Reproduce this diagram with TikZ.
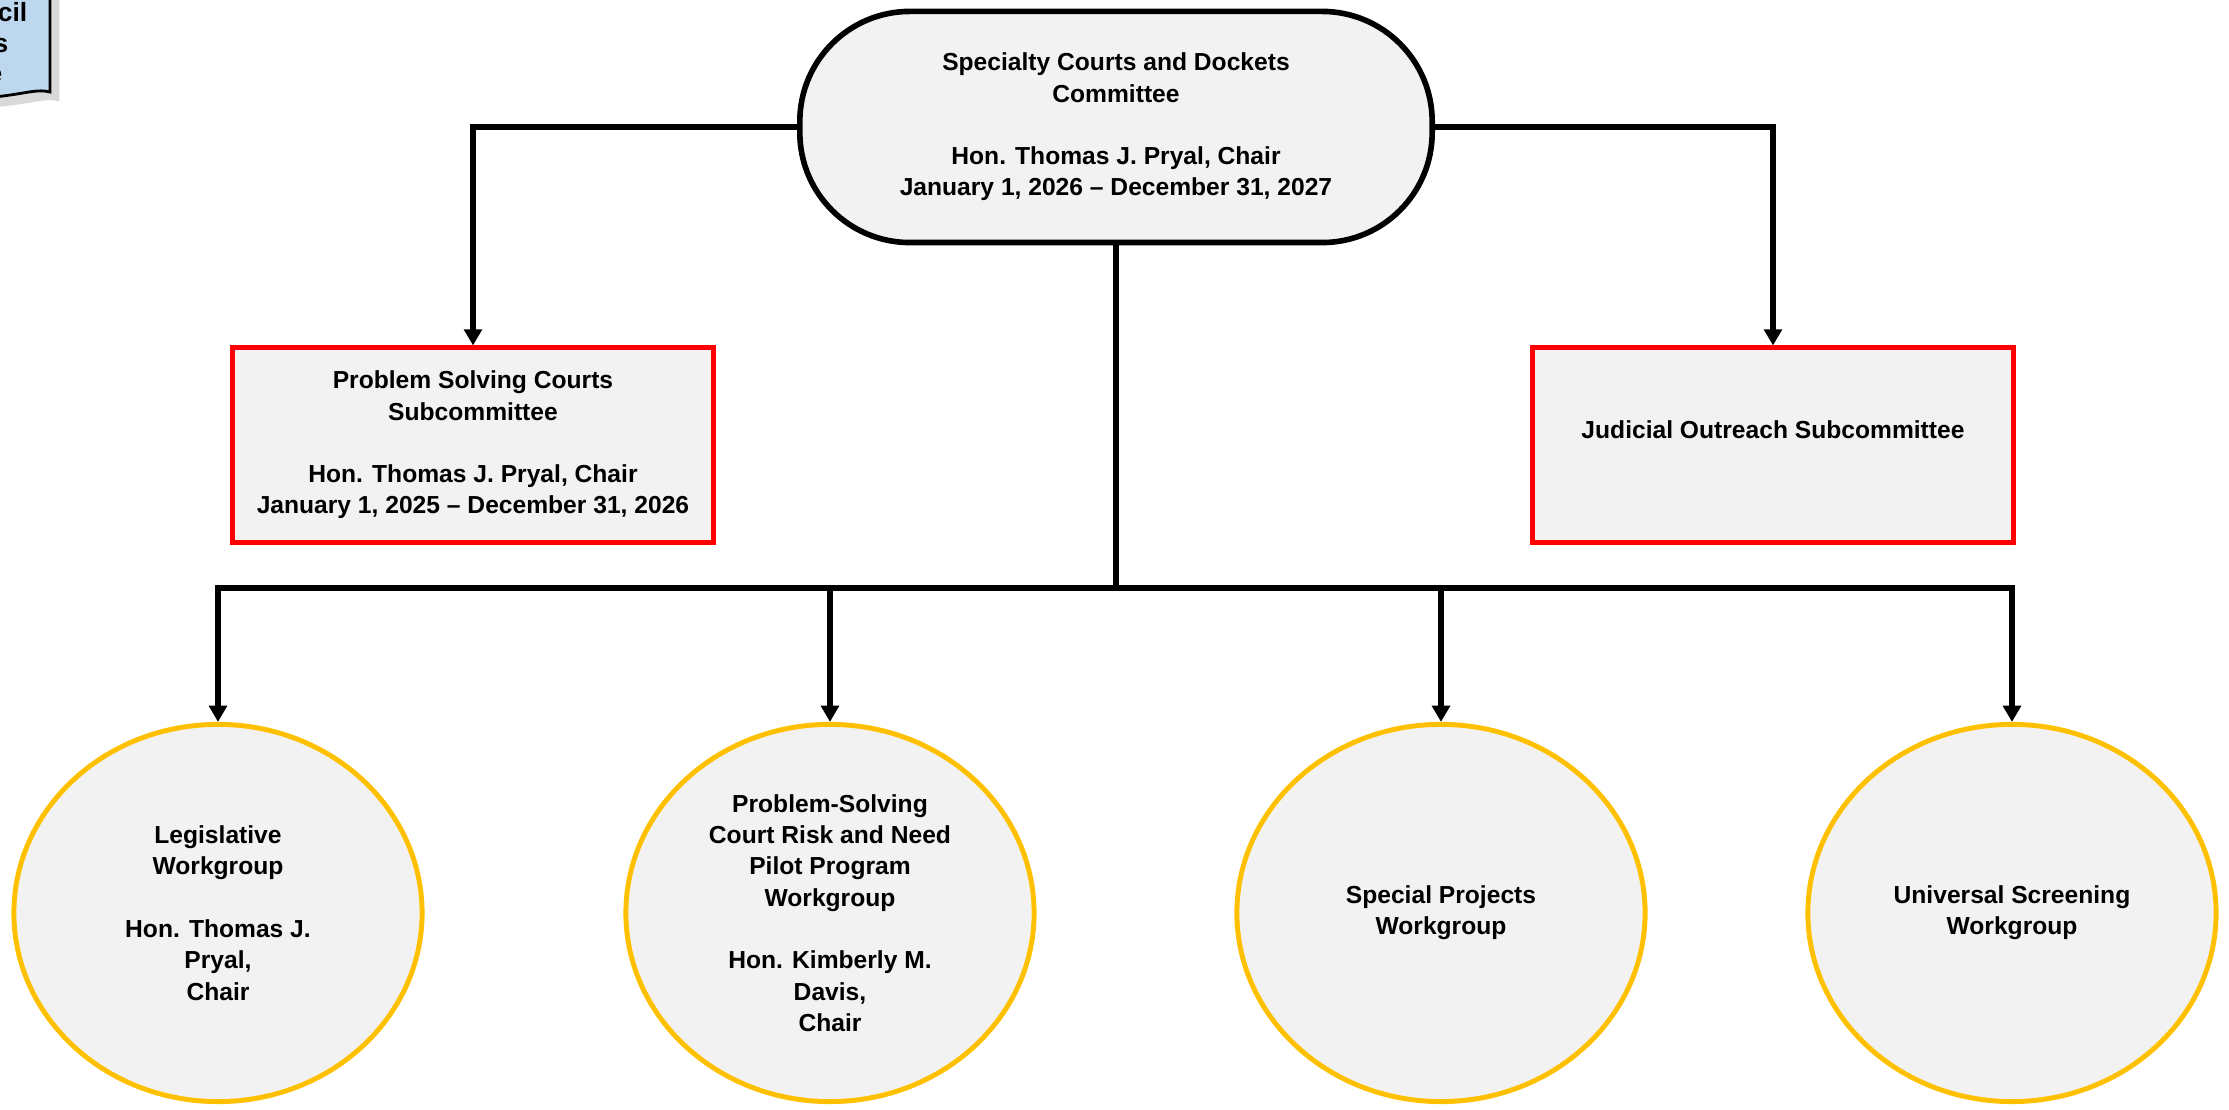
\documentclass[tikz,border=0pt]{standalone}
\usepackage{fontspec}
\setmainfont{Liberation Sans}
\usetikzlibrary{positioning, shapes.geometric, arrows.meta, shadows}
\definecolor{boxgray}{HTML}{F2F2F2}
\definecolor{gold}{HTML}{FFC000}
\definecolor{docblue}{HTML}{BDD7EE}

\begin{document}
\begin{tikzpicture}[x=0.01cm, y=-0.01cm,
  every node/.style={font=\bfseries\fontsize{7}{8.9}\selectfont, align=center},
  committee/.style={draw=black, line width=1.6pt, fill=boxgray, rounded corners=1.1cm, minimum width=6.32cm, minimum height=2.31cm},
  subcomm/.style={draw=red, line width=1.4pt, fill=boxgray, minimum width=4.81cm, minimum height=1.94cm},
  workgroup/.style={ellipse, draw=gold, line width=1.4pt, fill=boxgray, minimum width=4.08cm, minimum height=3.77cm, inner sep=0pt},
  link/.style={line width=1.5pt},
  arr/.style={link, -{Triangle[width=5pt, length=4.6pt]}}]
\useasboundingbox (0,0) rectangle (2229,1110);
\draw[fill=docblue, line width=0.8pt, drop shadow={opacity=0.3}] (-20,-20) -- (50,-20) -- (50,92) .. controls (35,88) and (20,96) .. (-20,98) -- cycle;
\node[anchor=base east, inner sep=0pt, font=\bfseries\fontsize{7.5}{9}\selectfont] (frag1) at (28,22) {cil};
\node[anchor=base east, inner sep=0pt, font=\bfseries\fontsize{7.5}{9}\selectfont] (frag2) at (9,53) {s};
\node[anchor=base east, inner sep=0pt, font=\bfseries\fontsize{7.5}{9}\selectfont] (frag3) at (3,83) {e};
\node[committee] (scd) at (1116,127) {Specialty Courts and Dockets\\Committee\\[8.9pt]Hon. Thomas J. Pryal, Chair\\January 1, 2026 -- December 31, 2027};
\node[subcomm] (psc) at (473,445) {Problem Solving Courts\\Subcommittee\\[8.9pt]Hon. Thomas J. Pryal, Chair\\January 1, 2025 -- December 31, 2026};
\node[subcomm] (jo) at (1773,445) {Judicial Outreach Subcommittee\\\mbox{}};
\node[workgroup] (leg) at (218,913) {Legislative\\Workgroup\\[8.9pt]Hon. Thomas J.\\Pryal,\\Chair};
\node[workgroup] (psr) at (830,913) {Problem-Solving\\Court Risk and Need\\Pilot Program\\Workgroup\\[8.9pt]Hon. Kimberly M.\\Davis,\\Chair};
\node[workgroup] (spw) at (1441,913) {Special Projects\\Workgroup};
\node[workgroup] (usw) at (2012,913) {Universal Screening\\Workgroup};
\coordinate (bus) at (1116,588);
\draw[link] (scd.south) -- (bus);
\draw[arr] (scd.west) -| (psc.north);
\draw[arr] (scd.east) -| (jo.north);
\foreach \wg in {leg, psr, spw, usw}
  \draw[arr] (bus) -| (\wg.north);
\end{tikzpicture}
\end{document}
